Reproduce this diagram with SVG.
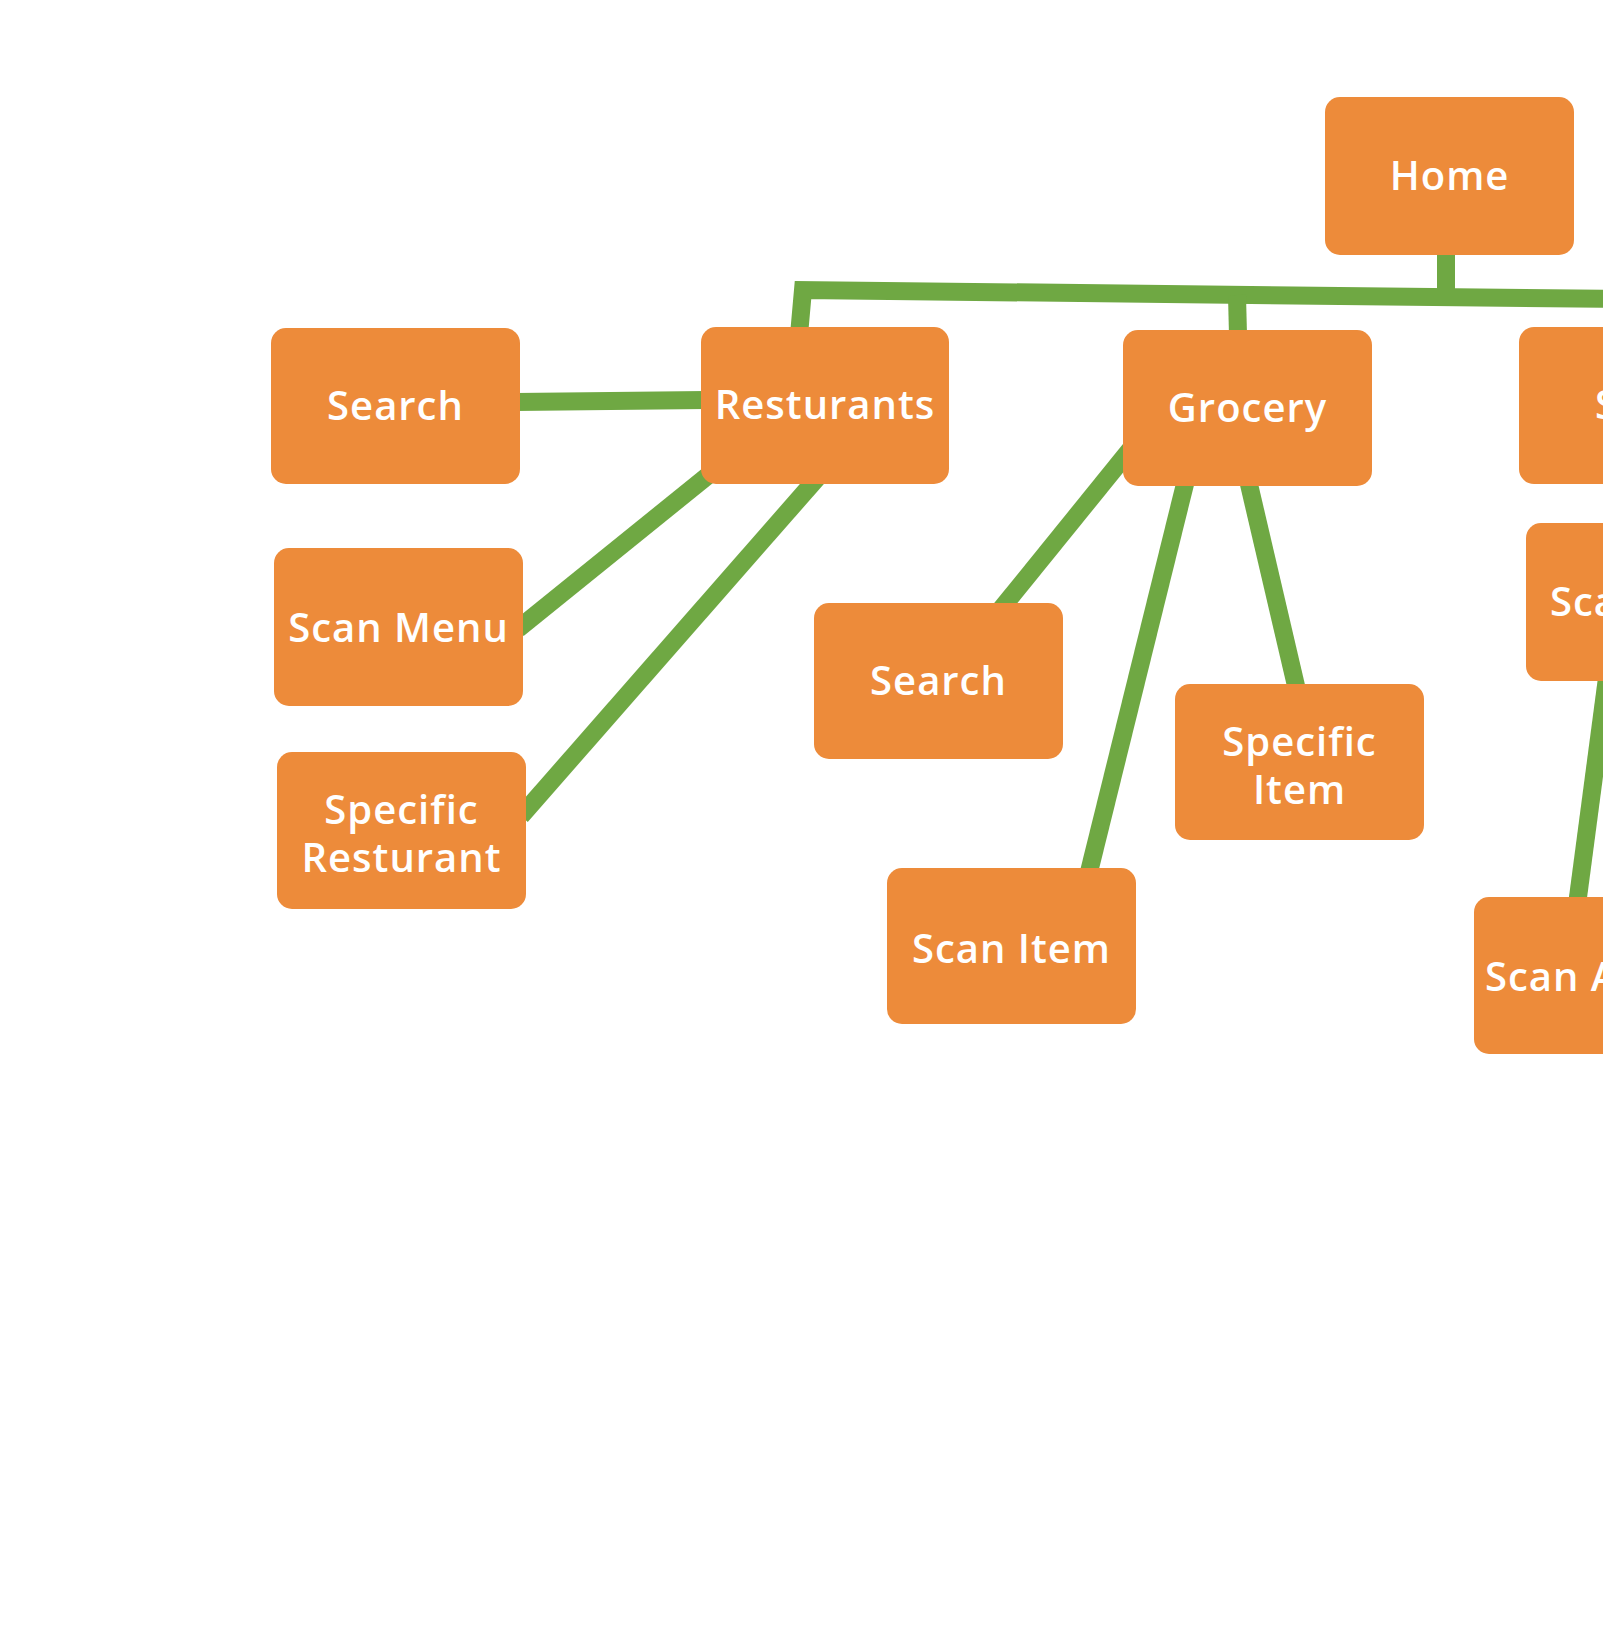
<svg xmlns="http://www.w3.org/2000/svg" width="1603" height="1641" viewBox="0 0 1603 1641">
  <style>
    .box { fill: #ED8B3A; }
    .lbl { font-family: "Open Sans", "Liberation Sans", sans-serif; font-weight: 600; font-size: 40px; fill: #FFFFFF; letter-spacing: 1px; text-anchor: middle; }
    .lbl.st { text-anchor: start; }
    .conn { fill: none; stroke: #6FA843; stroke-width: 18; stroke-linecap: butt; stroke-linejoin: miter; }
  </style>
  <rect width="1603" height="1641" fill="#FFFFFF"/>
  <g id="connectors">
    <path class="conn" d="M 799 335 L 803 290 L 1615 299"/>
    <path class="conn" d="M 1446 250 L 1446 299"/>
    <path class="conn" d="M 1237 295 L 1238 335"/>
    <path class="conn" d="M 515 402 L 706 400"/>
    <path class="conn" d="M 716 469 L 518 629"/>
    <path class="conn" d="M 818 477 L 521 816"/>
    <path class="conn" d="M 1133 446 L 1001 609"/>
    <path class="conn" d="M 1186 480 L 1088 876"/>
    <path class="conn" d="M 1248 480 L 1297 690"/>
    <path class="conn" d="M 1612 640 L 1575 920"/>
  </g>
  <g id="node-home">
    <rect class="box" x="1325" y="97" width="249" height="158" rx="15"/>
    <text class="lbl" x="1449.5" y="190">Home</text>
  </g>
  <g id="node-search-1">
    <rect class="box" x="271" y="328" width="249" height="156" rx="15"/>
    <text class="lbl" x="395.5" y="420">Search</text>
  </g>
  <g id="node-resturants">
    <rect class="box" x="701" y="327" width="248" height="157" rx="15"/>
    <text class="lbl" x="825" y="419">Resturants</text>
  </g>
  <g id="node-grocery">
    <rect class="box" x="1123" y="330" width="249" height="156" rx="15"/>
    <text class="lbl" x="1247.5" y="422">Grocery</text>
  </g>
  <g id="node-s">
    <rect class="box" x="1519" y="327" width="249" height="157" rx="15"/>
    <text class="lbl st" x="1595" y="419">Scan</text>
  </g>
  <g id="node-scan-menu">
    <rect class="box" x="274" y="548" width="249" height="158" rx="15"/>
    <text class="lbl" x="398.5" y="642">Scan Menu</text>
  </g>
  <g id="node-specific-resturant">
    <rect class="box" x="277" y="752" width="249" height="157" rx="15"/>
    <text class="lbl" x="401.5" y="824">Specific</text>
    <text class="lbl" x="401.5" y="872">Resturant</text>
  </g>
  <g id="node-search-2">
    <rect class="box" x="814" y="603" width="249" height="156" rx="15"/>
    <text class="lbl" x="938.5" y="695">Search</text>
  </g>
  <g id="node-specific-item">
    <rect class="box" x="1175" y="684" width="249" height="156" rx="15"/>
    <text class="lbl" x="1299.5" y="756">Specific</text>
    <text class="lbl" x="1299.5" y="804">Item</text>
  </g>
  <g id="node-scan-item">
    <rect class="box" x="887" y="868" width="249" height="156" rx="15"/>
    <text class="lbl" x="1011.5" y="963">Scan Item</text>
  </g>
  <g id="node-sca">
    <rect class="box" x="1526" y="523" width="249" height="158" rx="15"/>
    <text class="lbl st" x="1550" y="616">Scan</text>
  </g>
  <g id="node-scan-a">
    <rect class="box" x="1474" y="897" width="249" height="157" rx="15"/>
    <text class="lbl st" x="1485" y="991">Scan A</text>
  </g>
</svg>
